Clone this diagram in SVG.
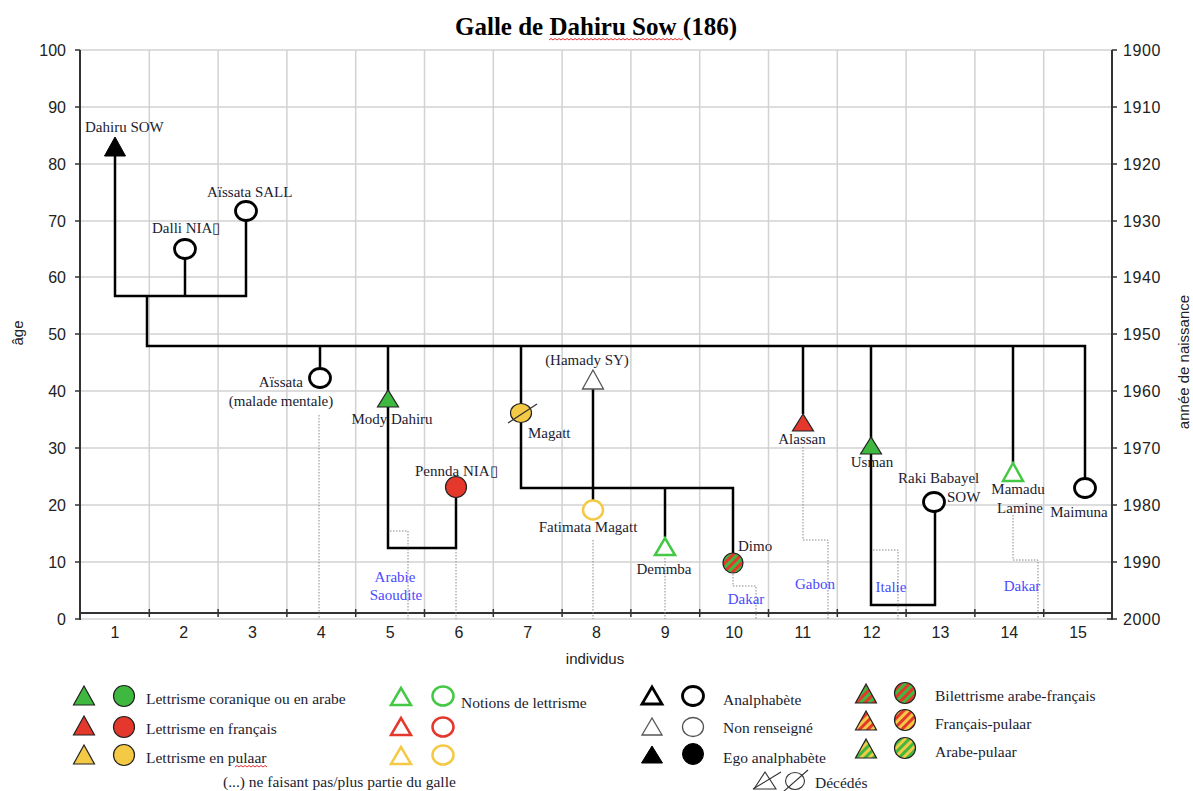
<svg xmlns="http://www.w3.org/2000/svg" width="1193" height="791" viewBox="0 0 1193 791">
<style>
.grid{stroke:#d2d2d2;stroke-width:1.5}
.ax{stroke:#333;stroke-width:2;fill:none}
.tk{stroke:#333;stroke-width:1.5}
.lk{stroke:#000;stroke-width:2.5;fill:none}
.dot{stroke:#888;stroke-width:1;stroke-dasharray:1.5 1.5;fill:none}
.lab{font-family:"Liberation Serif","Times New Roman",serif;font-size:15px;fill:#1c1c30}
.leg{font-size:15.5px}
.place{fill:#4a4aff}
.axl{font-family:"Liberation Sans",Arial,sans-serif;font-size:16px;fill:#222}
.gF{fill:#3fb83f;stroke:#222;stroke-width:1.2}
.rF{fill:#e5382d;stroke:#222;stroke-width:1.2}
.yF{fill:#f3c945;stroke:#222;stroke-width:1.2}
.gO{fill:#fff;stroke:#45c845;stroke-width:2.5}
.rO{fill:#fff;stroke:#e5382d;stroke-width:2.5}
.yO{fill:#fff;stroke:#f3c945;stroke-width:2.5}
.bO{fill:#fff;stroke:#000;stroke-width:2.8}
.nO{fill:#fff;stroke:#555;stroke-width:1.3}
.bF{fill:#000;stroke:#000;stroke-width:1}
.sq{stroke:#e03030;stroke-width:1;fill:none}
</style>
<defs>
<pattern id="pGR" width="6" height="6" patternUnits="userSpaceOnUse" patternTransform="rotate(45)"><rect width="3" height="6" fill="#3fb83f"/><rect x="3" width="3" height="6" fill="#e5382d"/></pattern>
<pattern id="pRY" width="6" height="6" patternUnits="userSpaceOnUse" patternTransform="rotate(45)"><rect width="3" height="6" fill="#e5382d"/><rect x="3" width="3" height="6" fill="#f3c945"/></pattern>
<pattern id="pGY" width="6" height="6" patternUnits="userSpaceOnUse" patternTransform="rotate(45)"><rect width="3" height="6" fill="#3fb83f"/><rect x="3" width="3" height="6" fill="#f3c945"/></pattern>
</defs>
<rect width="1193" height="791" fill="#fff"/>

<!-- title -->
<text x="596" y="35" text-anchor="middle" font-family="'Liberation Serif','Times New Roman',serif" font-weight="bold" font-size="25" fill="#000">Galle de Dahiru Sow (186)</text>
<path class="sq" d="M549,40 l2,-1.5 l2,1.5 l2,-1.5 l2,1.5 l2,-1.5 l2,1.5 l2,-1.5 l2,1.5 l2,-1.5 l2,1.5 l2,-1.5 l2,1.5 l2,-1.5 l2,1.5 l2,-1.5 l2,1.5 l2,-1.5 l2,1.5 l2,-1.5 l2,1.5 l2,-1.5 l2,1.5 l2,-1.5 l2,1.5 l2,-1.5 l2,1.5 l2,-1.5 l2,1.5 l2,-1.5 l2,1.5 l2,-1.5 l2,1.5 l2,-1.5 l2,1.5 l2,-1.5 l2,1.5 l2,-1.5 l2,1.5 l2,-1.5 l2,1.5 l2,-1.5 l2,1.5 l2,-1.5 l2,1.5 l2,-1.5 l2,1.5 l2,-1.5 l2,1.5 l2,-1.5 l2,1.5 l2,-1.5 l2,1.5 l2,-1.5 l2,1.5 l2,-1.5 l2,1.5 l2,-1.5 l2,1.5 l2,-1.5 l2,1.5 l2,-1.5 l2,1.5 l2,-1.5 l2,1.5 l2,-1.5 l2,1.5 l2,-1.5"/>

<!-- grid -->
<g id="grid">
<line class="grid" x1="80" y1="50" x2="1112" y2="50"/>
<line class="grid" x1="80" y1="107" x2="1112" y2="107"/>
<line class="grid" x1="80" y1="164" x2="1112" y2="164"/>
<line class="grid" x1="80" y1="221" x2="1112" y2="221"/>
<line class="grid" x1="80" y1="277" x2="1112" y2="277"/>
<line class="grid" x1="80" y1="334" x2="1112" y2="334"/>
<line class="grid" x1="80" y1="391" x2="1112" y2="391"/>
<line class="grid" x1="80" y1="448" x2="1112" y2="448"/>
<line class="grid" x1="80" y1="505" x2="1112" y2="505"/>
<line class="grid" x1="80" y1="562" x2="1112" y2="562"/>
<line class="grid" x1="80" y1="619" x2="1112" y2="619" stroke="#bbb" stroke-width="2"/>
<line class="grid" x1="149.3" y1="50" x2="149.3" y2="613"/>
<line class="grid" x1="218.1" y1="50" x2="218.1" y2="613"/>
<line class="grid" x1="286.9" y1="50" x2="286.9" y2="613"/>
<line class="grid" x1="355.7" y1="50" x2="355.7" y2="613"/>
<line class="grid" x1="424.5" y1="50" x2="424.5" y2="613"/>
<line class="grid" x1="493.3" y1="50" x2="493.3" y2="613"/>
<line class="grid" x1="562.1" y1="50" x2="562.1" y2="613"/>
<line class="grid" x1="630.9" y1="50" x2="630.9" y2="613"/>
<line class="grid" x1="699.7" y1="50" x2="699.7" y2="613"/>
<line class="grid" x1="768.5" y1="50" x2="768.5" y2="613"/>
<line class="grid" x1="837.3" y1="50" x2="837.3" y2="613"/>
<line class="grid" x1="906.1" y1="50" x2="906.1" y2="613"/>
<line class="grid" x1="974.9" y1="50" x2="974.9" y2="613"/>
<line class="grid" x1="1043.7" y1="50" x2="1043.7" y2="613"/>
</g>

<!-- axes -->
<g id="axes">
<line class="ax" x1="80" y1="50" x2="80" y2="620"/>
<line class="ax" x1="1112" y1="50" x2="1112" y2="620"/>
<line class="ax" x1="80" y1="613" x2="1112" y2="613"/>
<g class="tk">
<line x1="75" y1="50" x2="80" y2="50"/><line x1="75" y1="107" x2="80" y2="107"/><line x1="75" y1="164" x2="80" y2="164"/><line x1="75" y1="221" x2="80" y2="221"/><line x1="75" y1="277" x2="80" y2="277"/><line x1="75" y1="334" x2="80" y2="334"/><line x1="75" y1="391" x2="80" y2="391"/><line x1="75" y1="448" x2="80" y2="448"/><line x1="75" y1="505" x2="80" y2="505"/><line x1="75" y1="562" x2="80" y2="562"/><line x1="75" y1="619" x2="80" y2="619"/>
<line x1="1112" y1="50" x2="1117" y2="50"/><line x1="1112" y1="107" x2="1117" y2="107"/><line x1="1112" y1="164" x2="1117" y2="164"/><line x1="1112" y1="221" x2="1117" y2="221"/><line x1="1112" y1="277" x2="1117" y2="277"/><line x1="1112" y1="334" x2="1117" y2="334"/><line x1="1112" y1="391" x2="1117" y2="391"/><line x1="1112" y1="448" x2="1117" y2="448"/><line x1="1112" y1="505" x2="1117" y2="505"/><line x1="1112" y1="562" x2="1117" y2="562"/><line x1="1107" y1="619" x2="1117" y2="619"/>
<line x1="149.3" y1="609" x2="149.3" y2="617"/><line x1="218.1" y1="609" x2="218.1" y2="617"/><line x1="286.9" y1="609" x2="286.9" y2="617"/><line x1="355.7" y1="609" x2="355.7" y2="617"/><line x1="424.5" y1="609" x2="424.5" y2="617"/><line x1="493.3" y1="609" x2="493.3" y2="617"/><line x1="562.1" y1="609" x2="562.1" y2="617"/><line x1="630.9" y1="609" x2="630.9" y2="617"/><line x1="699.7" y1="609" x2="699.7" y2="617"/><line x1="768.5" y1="609" x2="768.5" y2="617"/><line x1="837.3" y1="609" x2="837.3" y2="617"/><line x1="906.1" y1="609" x2="906.1" y2="617"/><line x1="974.9" y1="609" x2="974.9" y2="617"/><line x1="1043.7" y1="609" x2="1043.7" y2="617"/>
</g>
<g class="axl" text-anchor="end">
<text x="66" y="56">100</text><text x="66" y="113">90</text><text x="66" y="170">80</text><text x="66" y="227">70</text><text x="66" y="283">60</text><text x="66" y="340">50</text><text x="66" y="397">40</text><text x="66" y="454">30</text><text x="66" y="511">20</text><text x="66" y="568">10</text><text x="66" y="625">0</text>
</g>
<g class="axl" letter-spacing="0.6">
<text x="1123" y="56">1900</text><text x="1123" y="113">1910</text><text x="1123" y="170">1920</text><text x="1123" y="227">1930</text><text x="1123" y="283">1940</text><text x="1123" y="340">1950</text><text x="1123" y="397">1960</text><text x="1123" y="454">1970</text><text x="1123" y="511">1980</text><text x="1123" y="568">1990</text><text x="1123" y="625">2000</text>
</g>
<g class="axl" text-anchor="middle">
<text x="114.9" y="638">1</text><text x="183.7" y="638">2</text><text x="252.5" y="638">3</text><text x="321.3" y="638">4</text><text x="390.1" y="638">5</text><text x="458.9" y="638">6</text><text x="527.7" y="638">7</text><text x="596.5" y="638">8</text><text x="665.3" y="638">9</text><text x="734.1" y="638">10</text><text x="802.9" y="638">11</text><text x="871.7" y="638">12</text><text x="940.5" y="638">13</text><text x="1009.3" y="638">14</text><text x="1078.1" y="638">15</text>
<text x="595" y="664" font-size="15">individus</text>
<text transform="translate(23,333) rotate(-90)" font-size="15">âge</text>
<text transform="translate(1189,362) rotate(-90)" font-size="15">année de naissance</text>
</g>
</g>

<!-- connectors -->
<g id="connectors">
<polyline class="lk" points="115,156 115,296 246,296 246,221"/>
<line class="lk" x1="185" y1="259" x2="185" y2="296"/>
<polyline class="lk" points="147,296 147,346 1085,346 1085,478"/>
<line class="lk" x1="320" y1="346" x2="320" y2="367"/>
<polyline class="lk" points="388,346 388,548 456,548 456,497"/>
<polyline class="lk" points="521,346 521,488 733,488 733,553"/>
<line class="lk" x1="593" y1="389" x2="593" y2="500"/>
<line class="lk" x1="665" y1="488" x2="665" y2="537"/>
<line class="lk" x1="803" y1="346" x2="803" y2="414"/>
<polyline class="lk" points="871,346 871,605 935,605 935,512"/>
<line class="lk" x1="1013" y1="346" x2="1013" y2="463"/>
<!-- dotted migration lines -->
<line class="dot" x1="319" y1="415" x2="319" y2="619"/>
<polyline class="dot" points="390,531 408,531 408,619"/>
<line class="dot" x1="456" y1="549" x2="456" y2="619"/>
<line class="dot" x1="593" y1="540" x2="593" y2="619"/>
<line class="dot" x1="665" y1="558" x2="665" y2="619"/>
<polyline class="dot" points="733,574 733,586 756,586 756,619"/>
<polyline class="dot" points="803,447 803,540 828,540 828,619"/>
<polyline class="dot" points="873,550 898,550 898,619"/>
<polyline class="dot" points="1013,515 1013,560 1038,560 1038,619"/>
</g>

<!-- nodes -->
<g id="n-dahiru"><polygon class="bF" points="115,137 104.5,156 125.5,156"/><text class="lab" x="85" y="132">Dahiru SOW</text></g>
<g id="n-dalli"><ellipse class="bO" cx="185" cy="249" rx="10.5" ry="9.5" stroke-width="2.3"/><text class="lab" x="152" y="233">Dalli NIA▯</text></g>
<g id="n-aissata-sall"><ellipse class="bO" cx="246" cy="211" rx="10.5" ry="9.5" stroke-width="2.3"/><text class="lab" x="207" y="197">Aïssata SALL</text></g>
<g id="n-aissata"><ellipse class="bO" cx="320" cy="378" rx="10.5" ry="9.5" stroke-width="2.3"/><text class="lab" x="303" y="387" text-anchor="end">Aïssata</text><text class="lab" x="281" y="406" text-anchor="middle">(malade mentale)</text></g>
<g id="n-mody"><polygon class="gF" points="388,390 377.5,407 398.5,407"/><text class="lab" x="392" y="424" text-anchor="middle">Mody Dahiru</text></g>
<g id="n-pennda"><circle class="rF" cx="456" cy="487" r="10.5"/><text class="lab" x="415" y="476">Pennda NIA▯</text></g>
<g id="n-magatt"><ellipse class="yF" cx="521" cy="413" rx="10.5" ry="9.5"/><line x1="508" y1="423" x2="537" y2="404" stroke="#333" stroke-width="1.2"/><text class="lab" x="528" y="438">Magatt</text></g>
<g id="n-hamady"><polygon class="nO" points="593,370 582.5,389 603.5,389"/><text class="lab" x="587" y="365" text-anchor="middle">(Hamady SY)</text></g>
<g id="n-fatimata"><ellipse class="yO" cx="593" cy="510" rx="10" ry="9.5" stroke-width="2.2"/><text class="lab" x="588" y="532" text-anchor="middle">Fatimata Magatt</text></g>
<g id="n-demmba"><polygon class="gO" points="665,538 655,555 675,555"/><text class="lab" x="664" y="574" text-anchor="middle">Demmba</text></g>
<g id="n-dimo"><circle cx="733" cy="563" r="10" fill="url(#pGR)" stroke="#222" stroke-width="1.2"/><text class="lab" x="738" y="551">Dimo</text></g>
<g id="n-alassan"><polygon class="rF" points="803,414 792.5,431 813.5,431"/><text class="lab" x="802" y="444" text-anchor="middle">Alassan</text></g>
<g id="n-usman"><polygon class="gF" points="871,437 860.5,454 881.5,454"/><text class="lab" x="872" y="467" text-anchor="middle">Usman</text></g>
<g id="n-raki"><ellipse class="bO" cx="934" cy="502" rx="10.5" ry="9.5" stroke-width="2.3"/><text class="lab" x="898" y="483">Raki Babayel</text><text class="lab" x="947" y="502">SOW</text></g>
<g id="n-mamadu"><polygon class="gO" points="1013,463 1003,481 1023,481"/><text class="lab" x="1018" y="494" text-anchor="middle">Mamadu</text><text class="lab" x="1020" y="513" text-anchor="middle">Lamine</text></g>
<g id="n-maimuna"><ellipse class="bO" cx="1085" cy="488" rx="10.5" ry="9.5" stroke-width="2.3"/><text class="lab" x="1079" y="517" text-anchor="middle">Maimuna</text></g>

<!-- places -->
<g id="places" class="lab place" text-anchor="middle">
<text x="395" y="582">Arabie</text><text x="396" y="600">Saoudite</text>
<text x="746" y="604">Dakar</text>
<text x="815" y="589">Gabon</text>
<text x="891" y="592">Italie</text>
<text x="1022" y="591">Dakar</text>
</g>

<!-- legend -->
<g id="legend">
<polygon class="gF" points="84,686 73.5,705 94.5,705"/><circle class="gF" cx="124" cy="696" r="10.5"/>
<polygon class="rF" points="84,716 73.5,735 94.5,735"/><circle class="rF" cx="124" cy="727" r="10.5"/>
<polygon class="yF" points="84,745 73.5,764 94.5,764"/><circle class="yF" cx="124" cy="755" r="10.5"/>
<text class="lab leg" x="146" y="704">Lettrisme coranique ou en arabe</text>
<text class="lab leg" x="146" y="734">Lettrisme en français</text>
<text class="lab leg" x="146" y="763">Lettrisme en pulaar</text>
<path class="sq" d="M235,767 l2,-1.5 l2,1.5 l2,-1.5 l2,1.5 l2,-1.5 l2,1.5 l2,-1.5 l2,1.5 l2,-1.5 l2,1.5 l2,-1.5 l2,1.5 l2,-1.5 l2,1.5 l2,-1.5 l2,1.5"/>
<polygon class="gO" points="401,688 391,705 411,705"/><ellipse class="gO" cx="443" cy="696" rx="10.5" ry="9.5"/>
<polygon class="rO" points="401,718 391,735 411,735"/><ellipse class="rO" cx="443" cy="727" rx="10.5" ry="9.5"/>
<polygon class="yO" points="401,747 391,764 411,764"/><ellipse class="yO" cx="443" cy="755" rx="10.5" ry="9.5"/>
<text class="lab leg" x="461" y="708">Notions de lettrisme</text>
<text class="lab leg" x="223" y="787">(...) ne faisant pas/plus partie du galle</text>

<polygon class="bO" points="652,687 642,704 662,704"/><ellipse class="bO" cx="693" cy="696" rx="10.5" ry="9.5"/>
<polygon class="nO" points="652,718 642,735 662,735"/><ellipse class="nO" cx="693" cy="727" rx="10.5" ry="9.5"/>
<polygon class="bF" points="652,746 641.5,763 662.5,763"/><circle class="bF" cx="693" cy="754" r="10.5"/>
<text class="lab leg" x="723" y="705">Analphabète</text>
<text class="lab leg" x="723" y="733">Non renseigné</text>
<text class="lab leg" x="723" y="763">Ego analphabète</text>

<polygon points="866,684 855.5,703 876.5,703" fill="url(#pGR)" stroke="#222" stroke-width="1.2"/><circle cx="905" cy="693" r="10.5" fill="url(#pGR)" stroke="#222" stroke-width="1.2"/>
<polygon points="866,711 855.5,730 876.5,730" fill="url(#pRY)" stroke="#222" stroke-width="1.2"/><circle cx="905" cy="720" r="10.5" fill="url(#pRY)" stroke="#222" stroke-width="1.2"/>
<polygon points="866,739 855.5,758 876.5,758" fill="url(#pGY)" stroke="#222" stroke-width="1.2"/><circle cx="905" cy="748" r="10.5" fill="url(#pGY)" stroke="#222" stroke-width="1.2"/>
<text class="lab leg" x="935" y="701">Bilettrisme arabe-français</text>
<text class="lab leg" x="935" y="729">Français-pulaar</text>
<text class="lab leg" x="935" y="757">Arabe-pulaar</text>

<polygon points="765,772 754,789 776,789" fill="none" stroke="#333" stroke-width="1.1"/><line x1="753" y1="789" x2="781" y2="772" stroke="#333" stroke-width="1.1"/>
<ellipse cx="795" cy="781" rx="9.5" ry="8.5" fill="none" stroke="#333" stroke-width="1.1"/><line x1="783" y1="792" x2="808" y2="770" stroke="#333" stroke-width="1.1"/>
<text class="lab leg" x="815" y="788">Décédés</text>
</g>
</svg>
